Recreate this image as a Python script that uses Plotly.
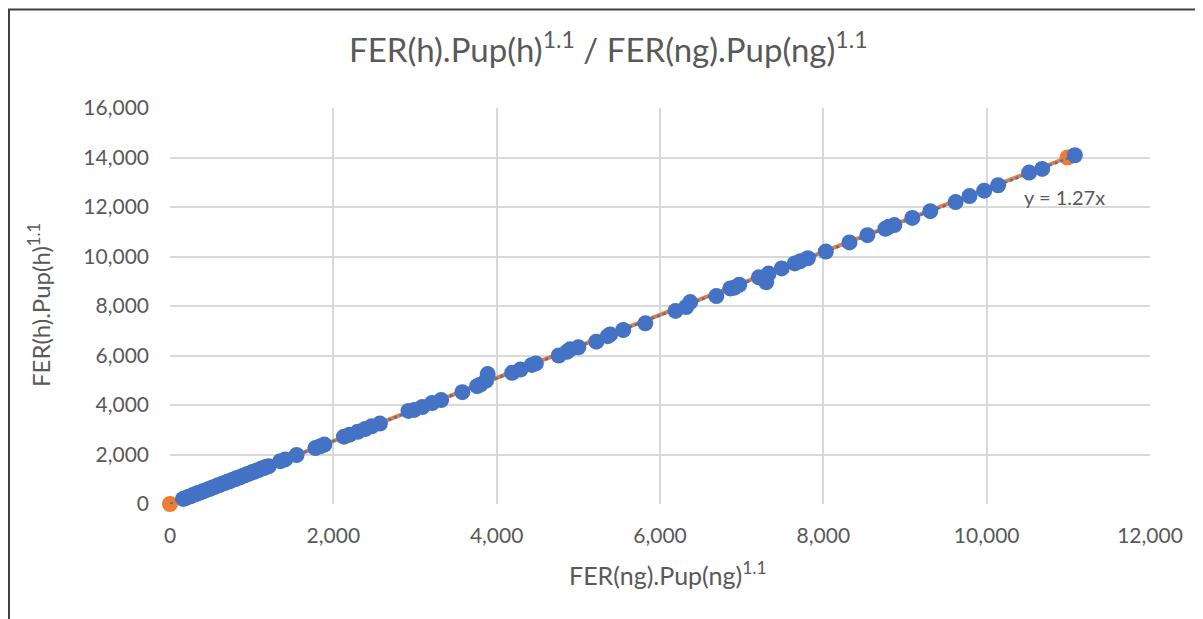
import plotly.graph_objects as go

# Blue series: FER(ng).Pup(ng)^1.1 (x) vs FER(h).Pup(h)^1.1 (y)
blue_x = [160, 190, 220, 250, 280, 310, 340, 370, 400, 430, 460, 490, 520, 550, 580,
          610, 640, 670, 700, 730, 760, 790, 820, 850, 880, 910, 940, 970, 1000, 1030,
          1060, 1090, 1120, 1150, 1180, 1210,
          1350, 1410, 1550, 1780, 1840, 1890, 2130, 2200, 2300, 2390, 2470, 2570,
          2920, 2990, 3090, 3210, 3320, 3580, 3760, 3800, 3870, 3890, 4190, 4290,
          4430, 4480, 4760, 4860, 4900, 5000, 5220, 5360, 5390, 5550, 5820, 6190,
          6320, 6370, 6690, 6860, 6910, 6970, 7210, 7300, 7330, 7490, 7650, 7720,
          7810, 8030, 8320, 8540, 8760, 8800, 8870, 9090, 9310, 9620, 9790, 9970,
          10140, 10520, 10680, 11080]
blue_y = [205, 236, 285, 312, 360, 390, 440, 465, 515, 540, 590, 615, 668, 690, 745,
          770, 820, 845, 895, 920, 972, 995, 1050, 1072, 1125, 1150, 1202, 1225, 1278, 1300,
          1352, 1378, 1430, 1455, 1505, 1530,
          1730, 1800, 1980, 2260, 2330, 2400, 2720, 2800, 2920, 3030, 3140, 3250,
          3760, 3800, 3920, 4080, 4200, 4520, 4760, 4820, 4990, 5250, 5300, 5430,
          5620, 5680, 6000, 6150, 6250, 6330, 6560, 6780, 6850, 7030, 7300, 7800,
          7960, 8160, 8400, 8710, 8740, 8860, 9160, 8960, 9310, 9520, 9720, 9810,
          9930, 10200, 10570, 10860, 11120, 11200, 11270, 11560, 11830, 12200, 12440, 12660,
          12880, 13390, 13540, 14090]

# Orange series (two reference points joined by a line)
orange_x = [0, 10990]
orange_y = [0, 14000]

# Linear trendline (intercept 0) of blue series: y = 1.27x
trend_x = [0, 11080]
trend_y = [0, 14072]
trend_label = "y = 1.27x"

x_ticks = [0, 2000, 4000, 6000, 8000, 10000, 12000]
y_ticks = [0, 2000, 4000, 6000, 8000, 10000, 12000, 14000, 16000]

BLUE = "#4472C4"
ORANGE = "#ED7D31"
TXT = "#595959"
FONT = "Lato"

fig = go.Figure()
fig.add_trace(go.Scatter(x=orange_x, y=orange_y, mode="lines+markers",
                         line=dict(color=ORANGE, width=4),
                         marker=dict(color=ORANGE, size=16),
                         cliponaxis=False, showlegend=False))
fig.add_trace(go.Scatter(x=blue_x, y=blue_y, mode="markers",
                         marker=dict(color=BLUE, size=16),
                         cliponaxis=False, showlegend=False))
fig.add_trace(go.Scatter(x=trend_x, y=trend_y, mode="lines",
                         line=dict(color=BLUE, width=2.5, dash="dot"),
                         showlegend=False))

fig.add_annotation(x=10959, y=12400, text=trend_label, showarrow=False,
                   font=dict(family=FONT, size=20, color=TXT))

fig.add_annotation(xref="paper", yref="paper", x=0.508, y=-0.222,
                   text="FER(ng).Pup(ng)<sup>1.1</sup>", showarrow=False,
                   font=dict(family=FONT, size=25, color=TXT))
fig.add_annotation(xref="paper", yref="paper", x=-0.152, y=0.5025, textangle=-90,
                   text="FER(h).Pup(h)<sup>1.1</sup>", showarrow=False,
                   font=dict(family=FONT, size=24, color=TXT))

# chart border
fig.add_shape(type="rect", xref="paper", yref="paper",
              x0=-0.1643, y0=1.2487, x1=1.2, y1=-0.4,
              line=dict(color="#404040", width=2), fillcolor="rgba(0,0,0,0)")

fig.update_layout(
    width=1203, height=619,
    margin=dict(l=162, r=61, t=100, b=123),
    paper_bgcolor="white", plot_bgcolor="white",
    title=dict(text="FER(h).Pup(h)<sup>1.1</sup> / FER(ng).Pup(ng)<sup>1.1</sup>",
               x=0.499, xanchor="center", y=0.932, yanchor="middle", yref="container",
               font=dict(family=FONT, size=33, color=TXT)),
    font=dict(family=FONT, color=TXT),
)
fig.update_xaxes(range=[0, 12000], tickvals=x_ticks, tickformat=",d",
                 showgrid=True, gridcolor="#D9D9D9", gridwidth=1.5,
                 zeroline=False, showline=False, ticks="",
                 ticklabelstandoff=17,
                 tickfont=dict(family=FONT, size=21, color=TXT))
fig.update_yaxes(range=[0, 16000], tickvals=y_ticks, tickformat=",d",
                 showgrid=True, gridcolor="#D9D9D9", gridwidth=1.5,
                 zeroline=False, showline=False, ticks="",
                 ticklabelstandoff=20,
                 tickfont=dict(family=FONT, size=21, color=TXT))

fig.write_html("out.html")
